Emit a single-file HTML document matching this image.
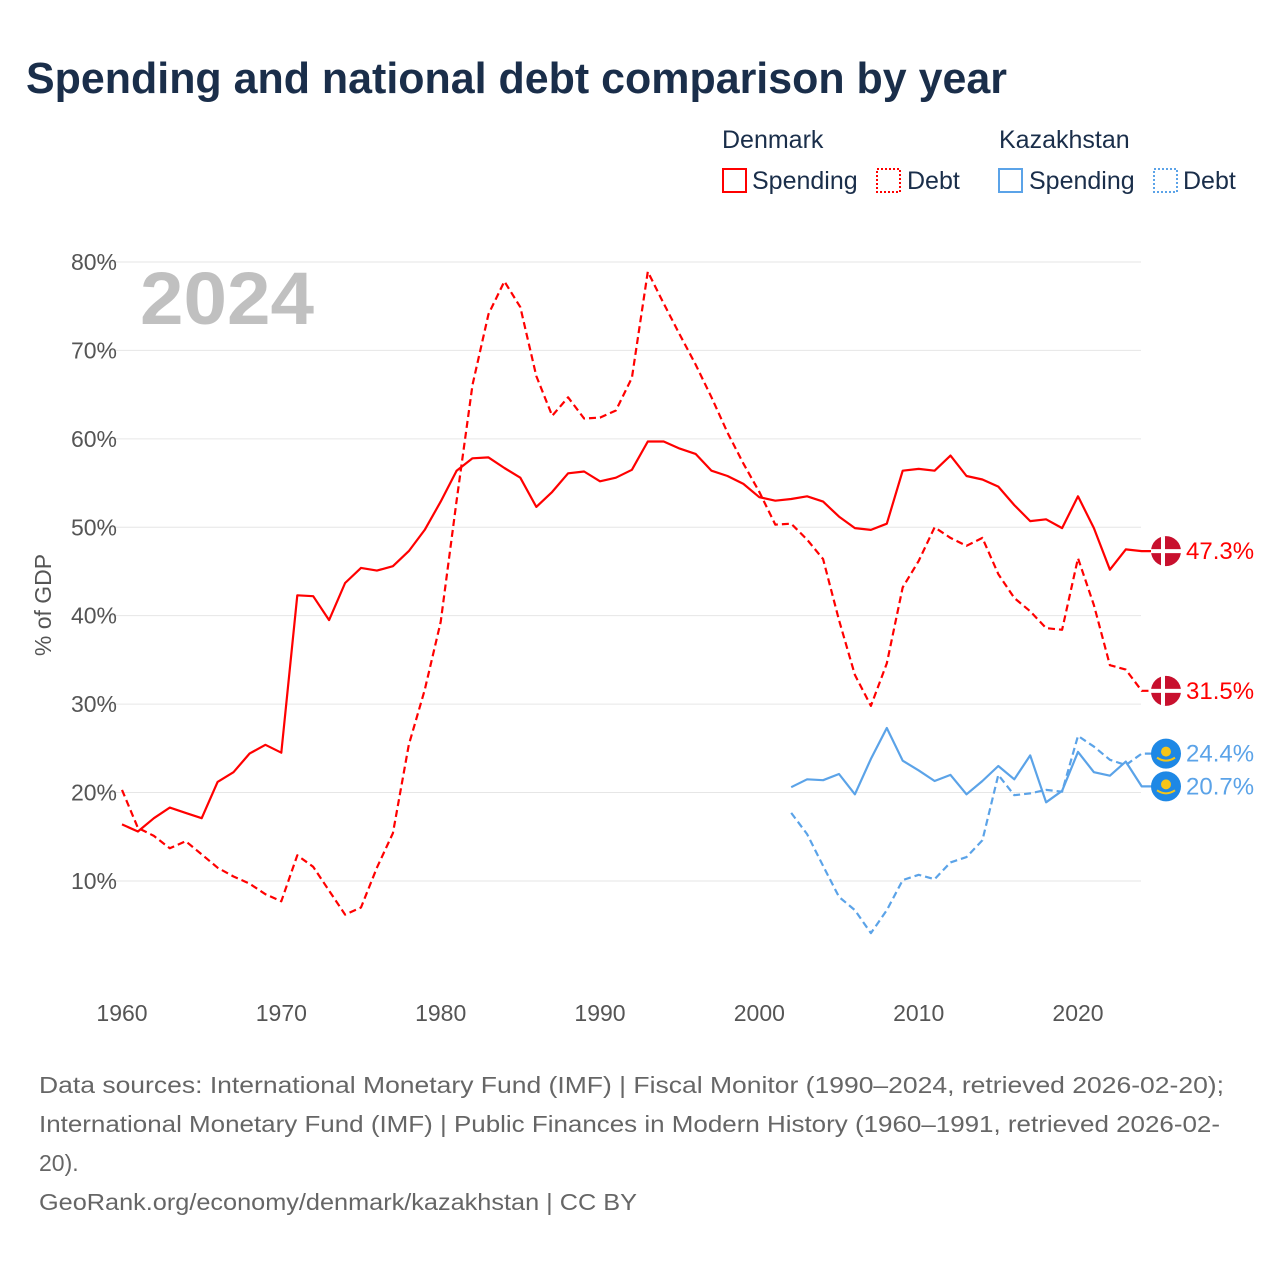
<!DOCTYPE html>
<html><head><meta charset="utf-8"><style>
body{margin:0;background:#fff;width:1280px;height:1280px;overflow:hidden;font-family:"Liberation Sans",sans-serif}
</style></head><body>
<svg id="c" width="1280" height="1280" xmlns="http://www.w3.org/2000/svg">
<text x="26" y="93" font-size="44" font-weight="bold" fill="#1a2e4a" textLength="981" lengthAdjust="spacingAndGlyphs">Spending and national debt comparison by year</text>
<g font-size="25" fill="#1a2e4a">
<text x="722" y="148">Denmark</text>
<text x="999" y="148">Kazakhstan</text>
<g><rect x="723" y="169" width="23" height="23" fill="none" stroke="#f00" stroke-width="2"/><text x="752" y="189">Spending</text></g>
<g><rect x="877" y="169" width="23" height="23" fill="none" stroke="#f00" stroke-width="2" stroke-dasharray="2,2"/><text x="907" y="189">Debt</text></g>
<g><rect x="999" y="169" width="23" height="23" fill="none" stroke="#5ba3e8" stroke-width="2"/><text x="1029" y="189">Spending</text></g>
<g><rect x="1154" y="169" width="23" height="23" fill="none" stroke="#5ba3e8" stroke-width="2" stroke-dasharray="2,2"/><text x="1183" y="189">Debt</text></g>
</g>
<text x="140" y="324" font-size="74" font-weight="bold" fill="#c0c0c0" textLength="174" lengthAdjust="spacingAndGlyphs">2024</text>
<text transform="translate(51,605) rotate(-90)" text-anchor="middle" font-size="23" fill="#555">% of GDP</text>
<g id="grid"></g><g id="series"></g>
<g font-size="23" fill="#666">
<text x="39" y="1093" textLength="1185" lengthAdjust="spacingAndGlyphs">Data sources: International Monetary Fund (IMF) | Fiscal Monitor (1990–2024, retrieved 2026-02-20);</text>
<text x="39" y="1132" textLength="1181" lengthAdjust="spacingAndGlyphs">International Monetary Fund (IMF) | Public Finances in Modern History (1960–1991, retrieved 2026-02-</text>
<text x="39" y="1171">20).</text>
<text x="39" y="1210" textLength="598" lengthAdjust="spacingAndGlyphs">GeoRank.org/economy/denmark/kazakhstan | CC BY</text>
</g>
</svg>
<script>
const yTicks=[10,20,30,40,50,60,70,80];
const xTicks=[1960,1970,1980,1990,2000,2010,2020];
const dkSpending=[16.4,15.6,17.1,18.3,17.7,17.1,21.2,22.3,24.4,25.4,24.5,42.3,42.2,39.5,43.7,45.4,45.1,45.6,47.3,49.7,52.9,56.4,57.8,57.9,56.7,55.6,52.3,54.0,56.1,56.3,55.2,55.6,56.5,59.7,59.7,58.9,58.3,56.4,55.8,54.9,53.4,53.0,53.2,53.5,52.9,51.2,49.9,49.7,50.4,56.4,56.6,56.4,58.1,55.8,55.4,54.6,52.5,50.7,50.9,49.9,53.5,49.9,45.2,47.5,47.3];
const dkDebt=[20.3,16.0,15.1,13.7,14.5,13.0,11.5,10.5,9.7,8.5,7.7,12.9,11.6,8.9,6.2,7.0,11.5,15.4,25.4,31.6,39.3,53.0,66.1,74.1,77.8,74.9,67.1,62.6,64.7,62.3,62.4,63.2,66.9,78.9,75.3,71.8,68.4,64.7,60.7,57.2,54.0,50.3,50.4,48.6,46.4,39.5,33.3,29.8,34.6,43.2,46.2,50.0,48.8,47.9,48.8,44.7,42.0,40.5,38.6,38.4,46.5,41.2,34.4,33.9,31.5];
const kzSpending=[20.6,21.5,21.4,22.1,19.8,23.8,27.3,23.6,22.5,21.3,22.0,19.8,21.3,23.0,21.5,24.2,18.9,20.2,24.6,22.3,21.9,23.5,20.7];
const kzDebt=[17.7,15.3,11.7,8.2,6.7,4.1,6.7,10.1,10.7,10.2,12.1,12.7,14.6,22.0,19.7,19.9,20.3,20.1,26.4,25.2,23.7,23.1,24.4];
const X=y=>122+(y-1960)*956/60;
const Y=v=>969.4-v*8.8429;
const NS="http://www.w3.org/2000/svg";
function mk(t,a,p){const e=document.createElementNS(NS,t);for(const k in a)e.setAttribute(k,a[k]);p.appendChild(e);return e;}
const grid=document.getElementById('grid');
yTicks.forEach(v=>{
const l=mk('line',{x1:100,x2:1141,y1:Y(v),y2:Y(v),stroke:'#e6e6e6','stroke-width':1},grid);


const t=mk('text',{x:117,y:Y(v)+8,'text-anchor':'end','font-size':23,fill:'#555'},grid);t.textContent=v+'%';


});
xTicks.forEach(v=>{
const t=mk('text',{x:X(v),y:1021,'text-anchor':'middle','font-size':23,fill:'#555'},grid);t.textContent=v;


});
const S=document.getElementById('series');
function line(data,start,color,dash,name,flag){
const pts=data.map((v,i)=>X(start+i).toFixed(1)+','+Y(v).toFixed(1));
const last=data[data.length-1];
pts.push('1166,'+Y(last).toFixed(1));
const a={points:pts.join(' '),fill:'none',stroke:color,'stroke-width':2.2,'stroke-linejoin':'round'};
if(dash)a['stroke-dasharray']='7,4';
const p=mk('polyline',a,S);


const g=mk('g',{},S);


const cy=Y(last);
if(flag==='dk'){mk('circle',{cx:1166,cy:cy,r:15,fill:'#c8102e'},g);mk('rect',{x:1161,y:cy-15,width:4,height:30,fill:'#fff'},g);mk('rect',{x:1151,y:cy-2,width:30,height:4,fill:'#fff'},g);}
else{mk('circle',{cx:1166,cy:cy,r:15,fill:'#1e88e5'},g);mk('circle',{cx:1166,cy:cy-2,r:5,fill:'#f5c518'},g);mk('path',{d:`M1157 ${cy+4} Q1166 ${cy+10} 1175 ${cy+4}`,stroke:'#f5c518','stroke-width':2,fill:'none'},g);}
const t=mk('text',{x:1186,y:cy+8,'font-size':24,fill:color},S);t.textContent=last.toFixed(1)+'%';


}
line(dkSpending,1960,'#f00',false,'denmark-spending-line','dk');
line(dkDebt,1960,'#f00',true,'denmark-debt-line','dk');
line(kzSpending,2002,'#5ba3e8',false,'kazakhstan-spending-line','kz');
line(kzDebt,2002,'#5ba3e8',true,'kazakhstan-debt-line','kz');
</script>
</body></html>
